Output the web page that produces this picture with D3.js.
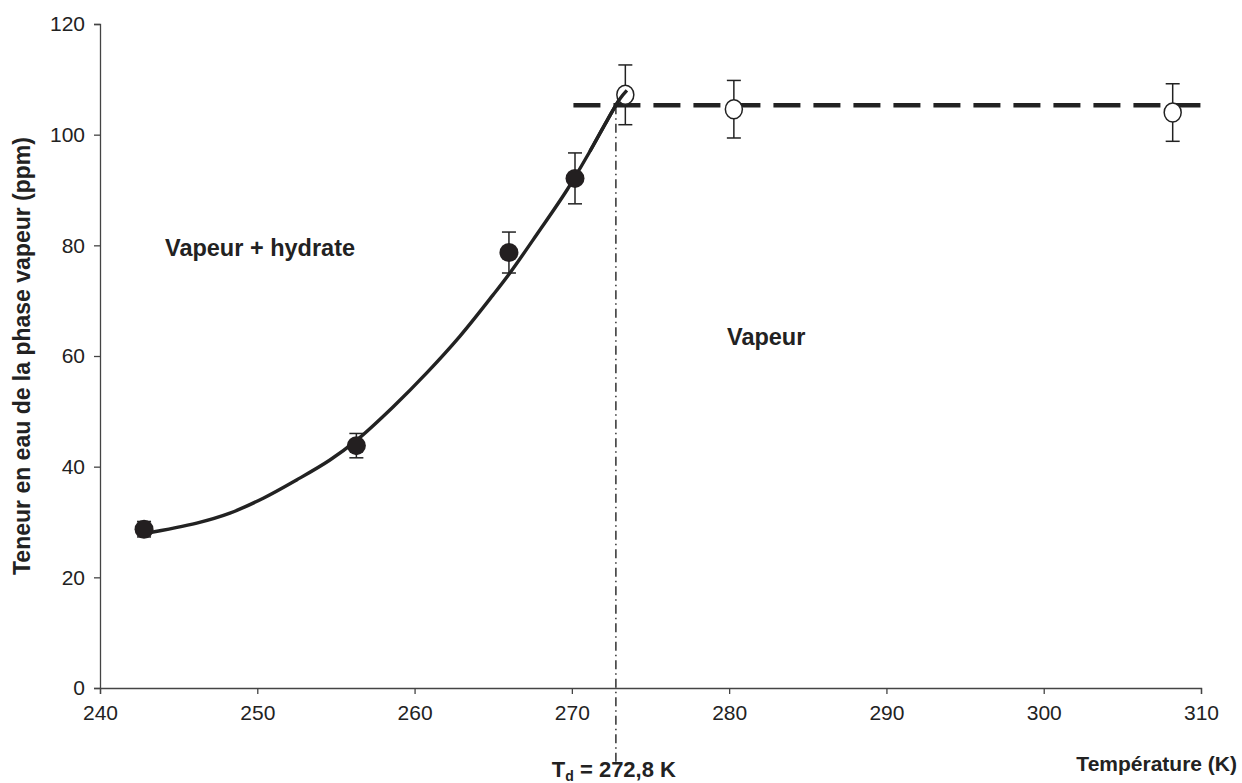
<!DOCTYPE html>
<html>
<head>
<meta charset="utf-8">
<script src="https://cdn.jsdelivr.net/npm/d3@7"></script>
<style>
  body { margin: 0; background: #fff; }
  text { font-family: "Liberation Sans", Arial, sans-serif; fill: #222; }
</style>
</head>
<body>
<div id="chart"></div>
<script>
// measured points (hydrate region, filled)
const hydrateT = [242.8, 256.3, 266.0, 270.2];
const hydrateW = [28.7, 43.8, 78.7, 92.1];
const hydrateErr = [1.4, 2.2, 3.7, 4.6];

// measured points (vapour only, open)
const vapourT = [273.4, 280.3, 308.2];
const vapourW = [107.2, 104.6, 104.0];
const vapourErr = [5.4, 5.2, 5.2];

// fitted curve
const curveT = [242.8, 246.15, 248.26, 250.38, 252.5, 254.62, 256.32, 258.63, 260.79, 262.89, 264.98, 266.06, 267.78, 269.69, 271.15, 272.23, 273.06, 273.5];
const curveW = [27.9, 29.8, 31.6, 34.3, 37.6, 41.2, 44.8, 50.8, 57.0, 63.6, 71.0, 75.0, 82.0, 90.0, 97.0, 102.5, 106.5, 108.0];

const plateauW = 105.3;
const plateauT = [270.1, 310];
const dewT = 272.8;

const xTicks = [240, 250, 260, 270, 280, 290, 300, 310];
const yTicks = [0, 20, 40, 60, 80, 100, 120];

function PlotChart(parent_element) {
  const W = 1242, H = 783;
  const margin = {top: 24, right: 41, bottom: 95, left: 100};

  const svg = d3.select(`#${parent_element}`)
    .append("svg")
    .attr("width", W)
    .attr("height", H);

  const x = d3.scaleLinear().domain([240, 310]).range([margin.left, W - margin.right]);
  const y = d3.scaleLinear().domain([0, 120]).range([H - margin.bottom, margin.top]);

  const xAxis = svg.append("g")
    .attr("transform", `translate(0,${y(0)})`)
    .call(d3.axisBottom(x).tickValues(xTicks).tickSize(6).tickPadding(11));
  const yAxis = svg.append("g")
    .attr("transform", `translate(${x(240)},0)`)
    .call(d3.axisLeft(y).tickValues(yTicks).tickSize(6).tickPadding(9));

  [xAxis, yAxis].forEach(g => {
    g.select(".domain").attr("stroke", "#444").attr("stroke-width", 1.3);
    g.selectAll(".tick line").attr("stroke", "#444").attr("stroke-width", 1.3);
    g.selectAll(".tick text")
      .style("font-family", "Liberation Sans, Arial, sans-serif")
      .style("font-size", "21px")
      .attr("fill", "#222");
  });

  // dew point vertical
  svg.append("line")
    .attr("x1", x(dewT)).attr("x2", x(dewT))
    .attr("y1", y(plateauW)).attr("y2", 762)
    .attr("stroke", "#222")
    .attr("stroke-width", 1.4)
    .attr("stroke-dasharray", "9,4,1.5,4");

  // plateau dashed line
  svg.append("line")
    .attr("x1", x(plateauT[0])).attr("x2", x(plateauT[1]))
    .attr("y1", y(plateauW)).attr("y2", y(plateauW))
    .attr("stroke", "#222")
    .attr("stroke-width", 4.5)
    .attr("stroke-dasharray", "27,13");

  // error bars
  const errData = hydrateT.map((t, i) => ({t, w: hydrateW[i], e: hydrateErr[i]}))
    .concat(vapourT.map((t, i) => ({t, w: vapourW[i], e: vapourErr[i]})));
  errData.forEach(d => {
    const g = svg.append("g").attr("stroke", "#222").attr("stroke-width", 1.5);
    g.append("line").attr("x1", x(d.t)).attr("x2", x(d.t)).attr("y1", y(d.w - d.e)).attr("y2", y(d.w + d.e));
    [d.w - d.e, d.w + d.e].forEach(v => {
      g.append("line").attr("x1", x(d.t) - 7).attr("x2", x(d.t) + 7).attr("y1", y(v)).attr("y2", y(v));
    });
  });

  // fitted curve
  const curve = curveT.map((t, i) => [t, curveW[i]]);
  const curveLine = d3.line().x(d => x(d[0])).y(d => y(d[1])).curve(d3.curveCatmullRom);
  svg.append("path")
    .datum(curve)
    .attr("fill", "none")
    .attr("stroke", "#222")
    .attr("stroke-width", 3.4)
    .attr("d", curveLine);

  // filled markers
  svg.selectAll(".hyd")
    .data(hydrateT)
    .enter().append("circle")
    .attr("cx", d => x(d))
    .attr("cy", (d, i) => y(hydrateW[i]))
    .attr("r", 9.5)
    .attr("fill", "#231f20");

  // open markers
  svg.selectAll(".vap")
    .data(vapourT)
    .enter().append("ellipse")
    .attr("cx", d => x(d))
    .attr("cy", (d, i) => y(vapourW[i]))
    .attr("rx", 8.5)
    .attr("ry", 9.5)
    .attr("fill", "#fff")
    .attr("stroke", "#222")
    .attr("stroke-width", 1.5);

  // curve tip passes over the first open marker
  svg.append("path")
    .datum(curve.slice(-4))
    .attr("fill", "none")
    .attr("stroke", "#222")
    .attr("stroke-width", 3.4)
    .attr("d", curveLine);

  // labels
  svg.append("text")
    .attr("transform", `translate(30,${(y(0) + y(120)) / 2}) rotate(-90)`)
    .attr("text-anchor", "middle")
    .style("font-size", "23px")
    .style("font-weight", "bold")
    .text("Teneur en eau de la phase vapeur (ppm)");

  svg.append("text")
    .attr("x", 1237).attr("y", 771)
    .attr("text-anchor", "end")
    .style("font-size", "21px")
    .style("font-weight", "bold")
    .text("Température (K)");

  const td = svg.append("text")
    .attr("x", x(dewT) - 2).attr("y", 777)
    .attr("text-anchor", "middle")
    .style("font-size", "22px")
    .style("font-weight", "bold");
  td.append("tspan").text("T");
  td.append("tspan").attr("dy", 4).style("font-size", "14px").text("d");
  td.append("tspan").attr("dy", -4).text(" = 272,8 K");

  svg.append("text")
    .attr("x", 165).attr("y", 256)
    .style("font-size", "23.5px")
    .style("font-weight", "bold")
    .text("Vapeur + hydrate");

  svg.append("text")
    .attr("x", 727).attr("y", 345)
    .style("font-size", "23.5px")
    .style("font-weight", "bold")
    .text("Vapeur");
}

document.addEventListener('DOMContentLoaded', () => {
  PlotChart("chart");
});
</script>
</body>
</html>
